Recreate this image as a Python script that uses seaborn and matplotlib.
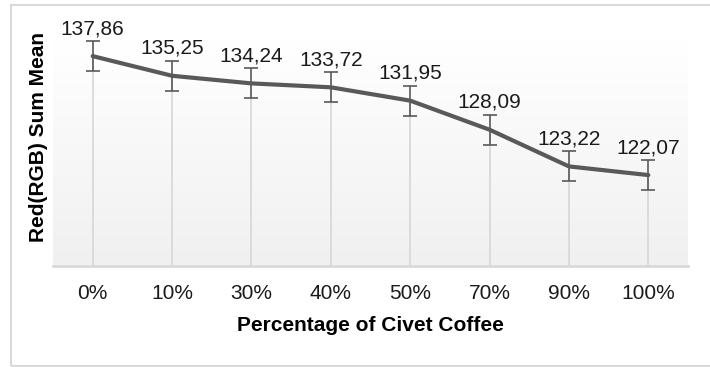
import numpy as np
import pandas as pd
import matplotlib
matplotlib.use("Agg")
import matplotlib.pyplot as plt
import seaborn as sns

# Civet coffee blends and their mean red-channel sums
categories = ["0%", "10%", "30%", "40%", "50%", "70%", "90%", "100%"]
red_mean = [137.86, 135.25, 134.24, 133.72, 131.95, 128.09, 123.22, 122.07]
red_err = [2, 2, 2, 2, 2, 2, 2, 2]
value_labels = ["137,86", "135,25", "134,24", "133,72", "131,95", "128,09", "123,22", "122,07"]

y_min, y_max = 110, 140

sns.set_theme(style="white")
plt.rcParams["font.family"] = ["Liberation Sans", "DejaVu Sans"]

df = pd.DataFrame({"pct": categories, "red": red_mean})

fig = plt.figure(figsize=(7.1, 3.67), dpi=100)
fig.patch.set_facecolor("white")

# chart frame
frame = plt.Rectangle((11 / 710, 1 / 367), 1.2, 361 / 367, transform=fig.transFigure,
                      fill=False, edgecolor="#d9d9d9", linewidth=1.5, zorder=0)
fig.add_artist(frame)

ax = fig.add_axes([53 / 710, (367 - 266) / 367, 635 / 710, 226 / 367])
ax.set_xlim(-0.5, len(categories) - 0.5)
ax.set_ylim(y_min, y_max)

# soft vertical gradient behind the plot: white at the top, light grey at the bottom
grad = np.linspace(0.0, 1.0, 256).reshape(-1, 1)
ax.imshow(grad, extent=[-0.5, len(categories) - 0.5, y_min, y_max], aspect="auto",
          cmap=matplotlib.colors.LinearSegmentedColormap.from_list("bg", ["#f0f0f0", "#ffffff"]),
          origin="lower", zorder=0)

x = np.arange(len(categories))

# drop lines from each point to the axis
ax.vlines(x, y_min, red_mean, color="#d9d9d9", linewidth=1.3, zorder=1)

sns.lineplot(data=df, x="pct", y="red", sort=False, ax=ax, color="#595959",
             linewidth=3.0, zorder=3)
ax.errorbar(x, red_mean, yerr=red_err, fmt="none", ecolor="#595959",
            elinewidth=1.2, capsize=4.7, capthick=1.2, zorder=4)

for xi, v, e, lab in zip(x, red_mean, red_err, value_labels):
    ax.annotate(lab, (xi, v + e), xytext=(0, 5), textcoords="offset points",
                ha="center", va="baseline", fontsize=15, color="#1a1a1a", zorder=5)

ax.set_xticks(x)
ax.set_xticklabels(categories)
ax.set_yticks([])
ax.tick_params(axis="x", length=0, pad=13, labelsize=15, labelcolor="#1a1a1a")

for side in ["top", "right", "left"]:
    ax.spines[side].set_visible(False)
ax.spines["bottom"].set_color("#d9d9d9")
ax.spines["bottom"].set_linewidth(2)

ax.set_xlabel("Percentage of Civet Coffee", fontsize=15, fontweight="bold", color="black", labelpad=9)
ax.set_ylabel("")
fig.text(39 / 710, 1 - 137 / 367, "Red(RGB) Sum Mean", rotation=90, ha="center", va="center",
         fontsize=15, fontweight="bold", color="black")

fig.savefig("out.png", dpi=100, facecolor="white")
